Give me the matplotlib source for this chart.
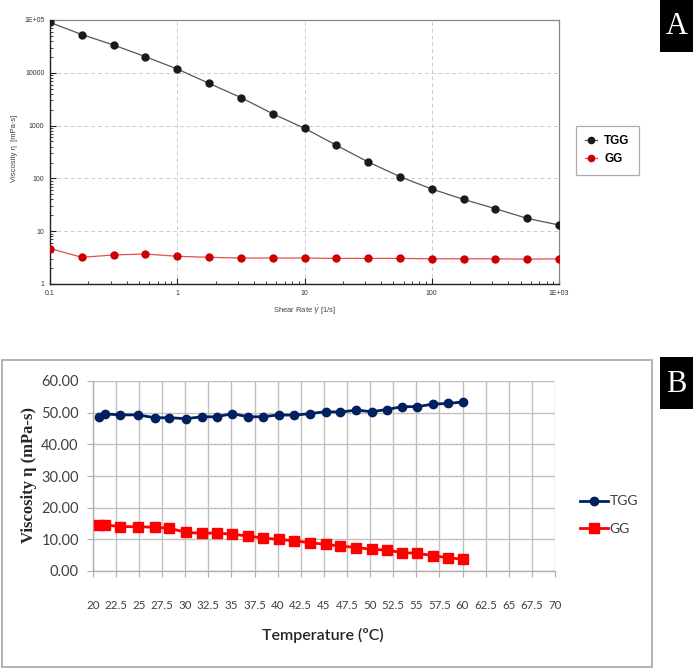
import matplotlib
matplotlib.use("Agg")
import matplotlib.pyplot as plt
from matplotlib.ticker import LogLocator, NullFormatter
from matplotlib.patches import Rectangle

# ---- data, panel A (flow curve) ----
shear_rate = [0.1, 0.178, 0.316, 0.562, 1, 1.78, 3.16, 5.62, 10, 17.8,
              31.6, 56.2, 100, 178, 316, 562, 1000]
visc_tgg_a = [90000, 53000, 33600, 20200, 11800, 6300, 3400, 1680, 890, 424,
              205, 108, 63, 40, 26.7, 17.5, 13.1]
visc_gg_a = [4.7, 3.2, 3.55, 3.7, 3.35, 3.2, 3.1, 3.1, 3.1, 3.05,
             3.05, 3.05, 3.0, 3.0, 3.0, 2.95, 3.0]
xticks_a = [0.1, 1, 10, 100, 1000]
xlabels_a = ['0.1', '1', '10', '100', '1E+03']
yticks_a = [1, 10, 100, 1000, 10000, 100000]
ylabels_a = ['1', '10', '100', '1000', '10000', '1E+05']

# ---- data, panel B (temperature sweep) ----
temp = [20.7, 21.3, 23.0, 24.9, 26.7, 28.3, 30.1, 31.8, 33.4, 35.1, 36.8, 38.4,
        40.1, 41.8, 43.5, 45.2, 46.8, 48.5, 50.2, 51.8, 53.5, 55.1, 56.8, 58.4, 60.1]
visc_tgg_b = [48.5, 49.6, 49.3, 49.3, 48.4, 48.4, 48.1, 48.7, 48.7, 49.7, 48.7, 48.7,
              49.3, 49.2, 49.7, 50.3, 50.2, 50.8, 50.3, 51.0, 51.9, 51.9, 52.7, 52.9, 53.4]
visc_gg_b = [14.4, 14.6, 14.0, 14.0, 13.8, 13.5, 12.2, 11.9, 12.0, 11.6, 11.05, 10.4,
             10.0, 9.5, 8.95, 8.4, 7.9, 7.4, 6.85, 6.6, 5.8, 5.6, 4.85, 4.2, 3.7]
xticks_b = [20 + 2.5 * i for i in range(21)]
yticks_b = [0, 10, 20, 30, 40, 50, 60]

W, H = 693, 668

def box(l, t, r, b):
    return [l / W, 1 - b / H, (r - l) / W, (b - t) / H]

fig = plt.figure(figsize=(W / 100, H / 100), dpi=100)
fig.patch.set_facecolor('white')

# ================= panel A =================
axa = fig.add_axes(box(50, 20, 559, 284))
axa.plot(shear_rate, visc_tgg_a, '-o', color='#555555', mfc='#1a1a1a', mec='#1a1a1a',
         lw=0.9, ms=5, label='TGG', zorder=3)
axa.plot(shear_rate, visc_gg_a, '-o', color='#e05050', mfc='#cc0000', mec='#cc0000',
         lw=0.9, ms=5, label='GG', zorder=3)
axa.set_xscale('log')
axa.set_yscale('log')
axa.set_xlim(0.1, 1000)
axa.set_ylim(1, 100000)
axa.set_xticks(xticks_a, xlabels_a)
axa.set_yticks(yticks_a, ylabels_a)
axa.xaxis.set_minor_locator(LogLocator(base=10, subs=range(2, 10)))
axa.yaxis.set_minor_locator(LogLocator(base=10, subs=range(2, 10)))
axa.xaxis.set_minor_formatter(NullFormatter())
axa.yaxis.set_minor_formatter(NullFormatter())
axa.tick_params(which='major', direction='in', length=4, width=0.8, color='#222222',
                labelsize=5, labelcolor='#333333', pad=4)
axa.tick_params(which='minor', direction='in', length=2.5, width=0.6, color='#222222')
for lab in axa.get_xticklabels() + axa.get_yticklabels():
    lab.set_family('Liberation Sans')
axa.grid(True, which='major', ls=(0, (4, 3)), color='#cccccc', lw=0.7)
for s in ['left', 'bottom']:
    axa.spines[s].set_color('#222222')
    axa.spines[s].set_linewidth(1.0)
for s in ['top', 'right']:
    axa.spines[s].set_color('#888888')
    axa.spines[s].set_linewidth(0.9)

fig.text(15 / W, 1 - 148 / H, 'Viscosity \u03b7  [mPa\u00b7s]', rotation=90,
         ha='center', va='center', fontsize=5.5, color='#444444', family='Liberation Sans')
fig.text(305 / W, 1 - 310 / H, r'Shear Rate $\dot{\gamma}$ [1/s]', ha='center', va='center',
         fontsize=5.5, color='#444444', family='Liberation Sans')

lega = axa.legend(loc='upper left', bbox_to_anchor=(576 / W, 1 - 126 / H),
                  bbox_transform=fig.transFigure, frameon=True, fancybox=False,
                  borderaxespad=0, edgecolor='#999999',
                  prop={'family': 'Liberation Sans', 'weight': 'bold', 'size': 8.5},
                  handlelength=1.0, handletextpad=0.6, borderpad=0.8, labelspacing=0.5,
                  markerscale=0.9)
lega.get_frame().set_linewidth(0.9)

# ================= panel B =================
fig.patches.append(Rectangle((2 / W, 0.002), 650 / W, (668 - 360) / H - 0.002,
                             transform=fig.transFigure, fill=False,
                             edgecolor='#a6a6a6', lw=1.2))

axb = fig.add_axes(box(92.7, 381, 555, 571))
axb.plot(temp, visc_tgg_b, '-o', color='#002060', lw=2.0, ms=6, label='TGG', zorder=3,
         clip_on=False)
axb.plot(temp, visc_gg_b, '-s', color='#ff0000', lw=2.0, ms=6.5, label='GG', zorder=3,
         clip_on=False)
axb.set_xlim(20, 70)
axb.set_ylim(0, 60)
axb.set_xticks(xticks_b, [f'{v:g}' for v in xticks_b])
axb.set_yticks(yticks_b, [f'{v:.2f}' for v in yticks_b])
axb.grid(True, color='#c0c0c0', lw=1.0)
axb.set_axisbelow(True)
for s in ['top', 'right']:
    axb.spines[s].set_visible(False)
for s in ['left', 'bottom']:
    axb.spines[s].set_color('#b0b0b0')
    axb.spines[s].set_linewidth(1.0)
axb.tick_params(axis='y', direction='out', length=4, color='#b0b0b0', labelsize=10.5,
                labelcolor='#404040', pad=6)
axb.tick_params(axis='x', direction='out', length=4, color='#b0b0b0', labelsize=8.3,
                labelcolor='#404040', pad=17)
for lab in axb.get_xticklabels() + axb.get_yticklabels():
    lab.set_family('Lato')

fig.text(29 / W, 1 - 475 / H, 'Viscosity \u03b7 (mPa-s)', rotation=90, ha='center',
         va='center', fontsize=12, fontweight='bold', family='Liberation Serif', color='#262626')
fig.text(323 / W, 1 - 635 / H, 'Temperature (\u00baC)', ha='center', va='center',
         fontsize=11.5, family='Lato', fontweight='semibold', color='#262626')

legb = axb.legend(loc='center left', bbox_to_anchor=(580 / W, 1 - 515 / H),
                  bbox_transform=fig.transFigure, frameon=False, borderaxespad=0,
                  prop={'family': 'Lato', 'size': 10}, handlelength=2.0,
                  handletextpad=0.15, labelspacing=1.1, borderpad=0)
for t in legb.get_texts():
    t.set_color('#404040')

# ---- panel letters ----
for letter, top in [('A', 0), ('B', 357)]:
    fig.patches.append(Rectangle((660 / W, 1 - (top + 52) / H), 33 / W, 52 / H,
                                 transform=fig.transFigure, facecolor='black',
                                 edgecolor='none'))
    fig.text(676.5 / W, 1 - (top + 27) / H, letter, ha='center', va='center',
             fontsize=22, color='white', family='Liberation Serif')

fig.savefig('out.png', dpi=100)
